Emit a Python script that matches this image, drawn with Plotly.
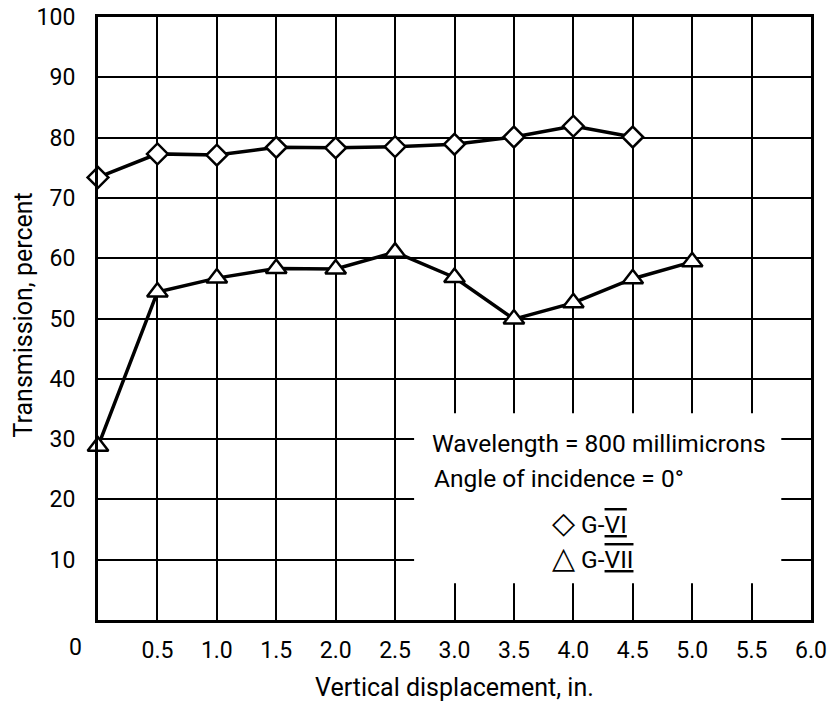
import plotly.graph_objects as go

# Data
x_g6 = [0.0, 0.5, 1.0, 1.5, 2.0, 2.5, 3.0, 3.5, 4.0, 4.5]
y_g6 = [73.4, 77.3, 77.1, 78.4, 78.3, 78.5, 78.9, 80.1, 81.9, 80.1]

x_g7 = [0.0, 0.5, 1.0, 1.5, 2.0, 2.5, 3.0, 3.5, 4.0, 4.5, 5.0]
y_g7 = [28.8, 54.4, 56.7, 58.3, 58.2, 61.0, 56.8, 49.9, 52.6, 56.6, 59.4]

x_ticks = [0.5, 1.0, 1.5, 2.0, 2.5, 3.0, 3.5, 4.0, 4.5, 5.0, 5.5, 6.0]
x_ticktext = ["0.5", "1.0", "1.5", "2.0", "2.5", "3.0", "3.5", "4.0", "4.5", "5.0", "5.5", "6.0"]
y_ticks = [10, 20, 30, 40, 50, 60, 70, 80, 90, 100]

FONT = "Roboto, Liberation Sans, sans-serif"
FS = 23

fig = go.Figure()
fig.add_trace(go.Scatter(
    x=x_g6, y=y_g6, mode="lines+markers",
    line=dict(color="black", width=3.5),
    marker=dict(symbol="diamond", size=16, color="white", line=dict(color="black", width=2.5)),
    showlegend=False, cliponaxis=False))
fig.add_trace(go.Scatter(
    x=x_g7, y=y_g7, mode="lines+markers",
    line=dict(color="black", width=3.5),
    marker=dict(symbol="triangle-up", size=18, color="white", line=dict(color="black", width=2.5)),
    showlegend=False, cliponaxis=False))

# white box behind the key text (interrupts the grid)
fig.add_shape(type="rect", xref="x", yref="y", x0=2.66, x1=5.75, y0=6.1, y1=34.3,
              fillcolor="white", line=dict(width=0), layer="between")

fig.update_layout(
    width=828, height=704,
    margin=dict(l=98, r=17, t=17, b=84, autoexpand=False),
    paper_bgcolor="white", plot_bgcolor="white",
    font=dict(family=FONT, size=FS, color="black"),
    hovermode=False,
)
fig.update_xaxes(
    range=[0, 6], tickvals=x_ticks, ticktext=x_ticktext,
    showgrid=True, gridcolor="black", gridwidth=2,
    showline=True, linecolor="black", linewidth=3, mirror=True,
    ticks="", ticklabelstandoff=7, zeroline=False, automargin=False,
    ticklabeloverflow="allow",
    tickfont=dict(family=FONT, size=FS))
fig.update_yaxes(
    range=[0, 100], tickvals=y_ticks,
    showgrid=True, gridcolor="black", gridwidth=2,
    showline=True, linecolor="black", linewidth=3, mirror=True,
    ticks="", ticklabelstandoff=15, zeroline=False, automargin=False,
    ticklabeloverflow="allow",
    tickfont=dict(family=FONT, size=FS))

ann = dict(showarrow=False, font=dict(family=FONT, size=FS, color="black"))
key = dict(showarrow=False, font=dict(family=FONT, size=24.5, color="black"))
ttl = dict(showarrow=False, font=dict(family=FONT, size=25, color="black"))
fig.add_annotation(text="0", xref="paper", yref="paper", x=0, y=0, xshift=-23, yshift=-27,
                   xanchor="center", yanchor="middle", **ann)
fig.add_annotation(text="Vertical displacement, in.", xref="paper", yref="paper", x=0.5, y=0,
                   yshift=-67, xanchor="center", yanchor="middle", **ttl)
fig.add_annotation(text="Transmission, percent", xref="paper", yref="paper", x=0, y=0.505,
                   xshift=-75, textangle=-90, xanchor="center", yanchor="middle", **ttl)
fig.add_annotation(text="Wavelength = 800 millimicrons", xref="x", yref="y", x=2.79, y=29.35,
                   xanchor="left", yanchor="middle", **key)
fig.add_annotation(text="Angle of incidence = 0°", xref="x", yref="y", x=2.81, y=23.4,
                   xanchor="left", yanchor="middle", **key)
fig.add_annotation(text="<span style='font-size:30px'>◇</span> G-<span style='text-decoration:underline overline'>VI</span>",
                   xref="x", yref="y", x=3.8, y=16.25, xanchor="left", yanchor="middle", **key)
fig.add_annotation(text="<span style='font-size:30px'>△</span> G-<span style='text-decoration:underline overline'>VII</span>",
                   xref="x", yref="y", x=3.8, y=10.3, xanchor="left", yanchor="middle", **key)

# remove the default page margin so the 828x704 figure fills the window exactly
fig.write_html("out.html",
               config={"displayModeBar": False, "staticPlot": True},
               post_script="document.body.style.margin='0';document.body.style.overflow='hidden';")
